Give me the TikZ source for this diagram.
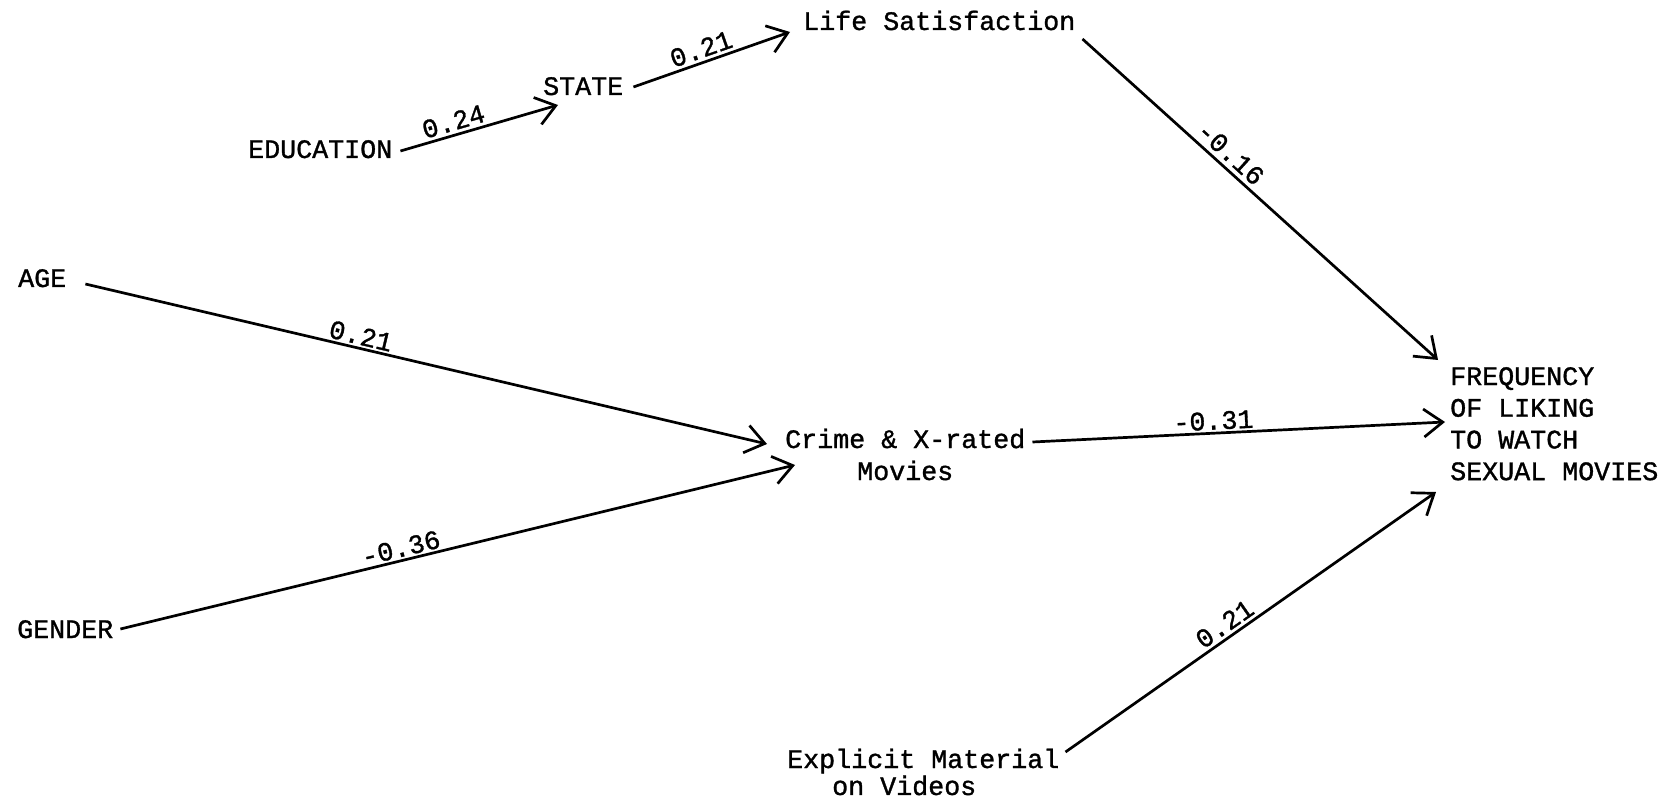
\documentclass[tikz,border=0pt]{standalone}
\usepackage{fontspec}
\newfontfamily\tw[FakeBold=1.2]{Liberation Mono}
\usetikzlibrary{arrows.meta}
\tikzset{
  lbl/.style={font=\tw\fontsize{26.67}{32}\selectfont, inner sep=0pt, anchor=base west},
  arr/.style={line width=2.7pt, -{Straight Barb[length=19pt,width=28pt,line width=2.7pt]}},
  wt/.style={font=\tw\fontsize{26.67}{32}\selectfont, sloped, above, inner sep=3pt}
}
\begin{document}
\begin{tikzpicture}[x=1pt,y=-1pt]
\useasboundingbox (0,0) rectangle (1662,802);
\node[lbl] (life) at (803,30) {Life Satisfaction};
\node[lbl] (state) at (543,95) {STATE};
\node[lbl] (edu) at (248,158) {EDUCATION};
\node[lbl] (age) at (18,287) {AGE};
\node[lbl] (gender) at (17,638) {GENDER};
\node[lbl] (crime) at (785,448) {\begin{tabular}[t]{@{}c@{}}Crime \& X-rated\\Movies\end{tabular}};
\node[lbl] (freq) at (1450,385) {\fontsize{26.67}{31.7}\selectfont\begin{tabular}[t]{@{}l@{}}FREQUENCY\\OF LIKING\\TO WATCH\\SEXUAL MOVIES\end{tabular}};
\node[lbl] (expl) at (787,768) {\fontsize{26.67}{25.5}\selectfont\begin{tabular}[t]{@{}l@{}}Explicit Material\\\hspace*{45pt}on Videos\end{tabular}};

\draw[arr] ([xshift=8pt,yshift=7pt]edu.base east) -- node[wt,pos=0.36]{0.24} ([xshift=15pt,yshift=-10pt]state.base west);
\draw[arr] ([xshift=10pt,yshift=8pt]state.base east) -- node[wt,pos=0.46]{0.21} ([xshift=-13pt,yshift=-2pt]life.base west);
\draw[arr] ([xshift=7pt,yshift=-9pt]life.base east) -- node[wt,pos=0.39,inner sep=4pt]{-0.16} ([xshift=-12pt,yshift=25pt]freq.base west);
\draw[arr] ([xshift=19pt,yshift=3pt]age.base east) -- node[wt,pos=0.40,inner sep=2pt]{0.21} ([xshift=-18pt,yshift=4pt]crime.base west);
\draw[arr] ([xshift=7pt,yshift=9pt]gender.base east) -- node[wt,pos=0.42,inner sep=2pt]{-0.36} ([xshift=10pt,yshift=-17pt]crime.base west);
\draw[arr] ([xshift=7pt,yshift=6pt]crime.base east) -- node[wt,pos=0.44,inner sep=2pt]{-0.31} ([xshift=-5pt,yshift=-37pt]freq.base west);
\draw[arr] ([xshift=6pt,yshift=16pt]expl.base east) -- node[wt,pos=0.45,inner sep=3pt]{0.21} ([xshift=-14pt,yshift=-107pt]freq.base west);
\end{tikzpicture}
\end{document}
